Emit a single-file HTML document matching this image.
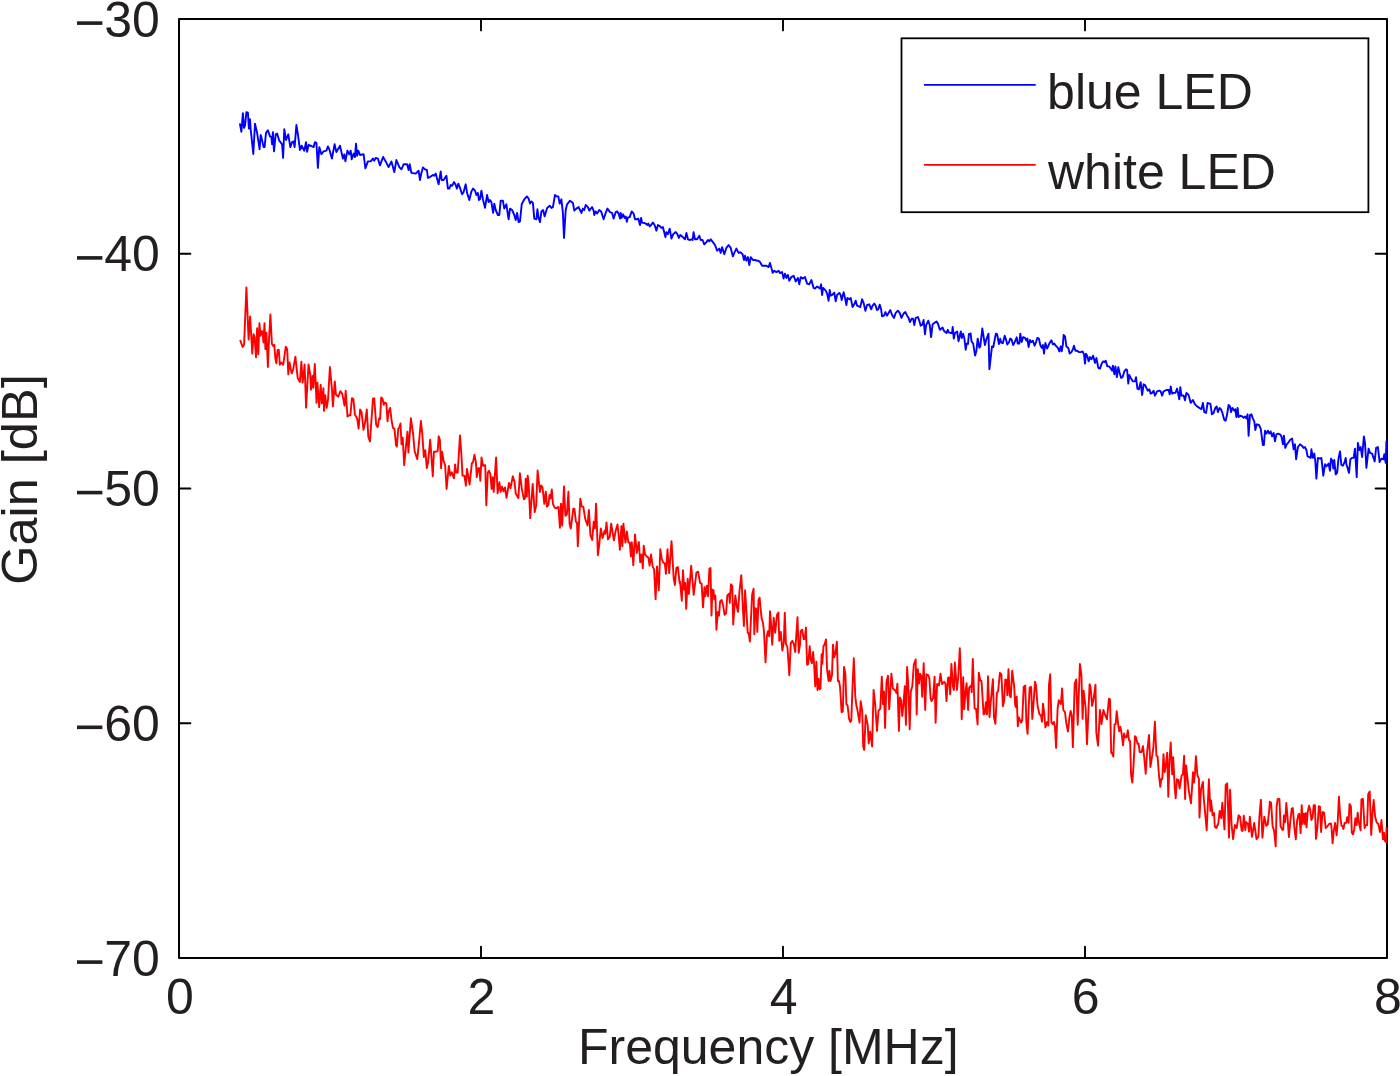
<!DOCTYPE html>
<html><head><meta charset="utf-8">
<style>
html,body{margin:0;padding:0;background:#fff;width:1400px;height:1076px;overflow:hidden}
svg{display:block}
text{font-family:"Liberation Sans",sans-serif;fill:#231f20}
</style></head><body>
<svg width="1400" height="1076" viewBox="0 0 1400 1076">
<rect x="0" y="0" width="1400" height="1076" fill="#fff"/>
<!-- ticks -->
<g stroke="#000" stroke-width="1.9" stroke-linecap="round" fill="none">
<path d="M179 253.75h11.4M179 488.50h11.4M179 723.25h11.4M1387 253.75h-11.4M1387 488.50h-11.4M1387 723.25h-11.4M481 958v-11.4M783 958v-11.4M1085 958v-11.4M481 19v11.4M783 19v11.4M1085 19v11.4"/>
</g>

<!-- axes box -->
<path d="M179 19H1387V958H179Z" fill="none" stroke="#000" stroke-width="2" stroke-linejoin="round"/>
<!--CURVES-->
<g fill="none" stroke-width="1.9" stroke-linejoin="round" stroke-linecap="round">
<path stroke="#0000ff" d="M240.0 124.3 241.4 131.7 242.9 113.1 244.0 127.9 245.0 125.7 246.4 112.1 247.9 112.6 248.9 128.6 250.0 119.3 250.7 129.3 253.3 154.0 255.0 123.6 257.1 132.9 259.6 149.3 260.7 135.0 261.4 137.1 263.6 147.1 264.6 147.1 266.0 132.9 267.9 130.3 270.0 136.4 271.4 137.1 272.1 144.3 272.9 132.1 274.0 151.4 275.7 134.3 277.1 133.6 279.3 140.7 282.1 144.3 283.1 157.9 284.3 129.3 286.1 140.0 288.3 134.3 290.3 147.1 292.1 142.1 293.6 141.4 294.6 147.1 296.4 125.0 297.9 134.3 300.0 150.0 301.7 145.7 304.3 150.7 306.0 142.1 307.1 151.7 308.6 145.0 311.4 146.0 313.6 147.1 315.0 142.1 316.4 142.9 317.9 167.9 319.3 147.1 321.4 154.3 323.6 151.4 326.4 150.7 327.9 146.4 329.3 149.3 331.9 158.6 334.6 144.3 336.4 152.1 340.0 145.7 342.9 158.6 344.3 154.3 345.4 161.4 347.4 150.7 349.3 154.3 350.7 150.7 351.7 159.3 353.6 153.6 355.0 157.1 356.0 143.6 357.1 155.7 358.3 150.7 360.0 155.0 363.6 154.3 365.4 168.3 367.9 161.4 370.7 161.4 372.9 158.6 374.3 160.7 375.7 157.9 377.9 158.6 380.0 165.4 383.1 156.9 385.7 161.4 388.6 167.1 391.4 161.4 394.3 172.1 396.4 160.0 399.3 167.1 401.4 169.3 403.6 164.3 407.1 164.3 408.6 170.0 409.7 164.3 411.4 172.9 415.7 173.6 418.6 170.7 420.0 180.0 421.1 174.3 422.9 167.4 425.0 169.3 426.9 170.0 427.9 177.9 430.0 177.1 432.9 175.0 434.3 175.7 435.7 173.6 438.6 184.3 440.7 171.4 441.7 180.0 443.6 180.0 446.4 175.7 447.9 188.6 449.3 188.6 450.7 185.0 452.1 185.7 454.0 182.1 455.7 185.0 456.9 188.6 458.3 183.6 460.0 187.9 462.1 194.3 463.6 192.1 465.7 184.3 467.1 192.9 469.3 200.0 471.4 191.4 473.1 188.6 475.0 190.7 476.4 195.0 477.9 192.9 478.9 200.0 480.0 199.3 481.4 190.7 483.1 200.0 485.0 207.9 487.1 195.0 488.6 202.1 490.0 200.0 491.4 202.1 493.1 212.9 494.3 203.6 495.7 210.0 497.9 215.0 499.3 215.0 500.7 200.7 502.9 200.7 504.3 208.6 506.4 204.3 508.6 219.3 510.0 208.6 512.1 210.0 514.3 215.0 515.7 220.0 517.1 212.9 518.6 222.1 520.0 221.4 521.7 204.3 524.3 199.3 526.9 196.4 528.6 198.6 530.0 203.6 531.4 201.4 532.9 202.9 534.3 218.6 536.4 219.3 537.4 209.3 538.6 217.9 540.0 222.1 541.4 211.4 543.1 210.0 544.6 216.4 547.1 207.9 549.7 205.7 551.4 207.9 552.9 207.1 555.0 195.0 556.4 196.4 558.3 196.4 559.7 203.6 561.4 199.3 562.9 212.9 564.0 237.9 565.7 210.0 567.1 204.3 570.0 200.7 572.9 202.9 574.3 210.7 576.4 208.6 578.6 207.1 580.0 210.0 581.4 212.9 582.9 208.6 584.3 210.0 585.7 205.0 587.9 207.1 589.3 210.7 590.7 208.6 592.1 207.1 593.6 210.7 594.3 215.0 595.7 211.4 597.1 213.6 599.3 210.0 601.1 211.4 603.6 219.3 605.7 212.9 607.4 208.6 610.0 212.1 612.1 212.9 613.6 218.6 615.7 212.1 617.1 211.4 618.6 213.6 620.0 218.6 620.7 212.9 621.7 217.9 623.1 214.3 624.6 217.9 625.7 216.4 626.9 221.7 627.9 217.4 629.7 217.1 631.7 211.4 633.6 213.6 635.0 219.3 636.9 219.3 638.3 218.6 640.0 225.0 641.1 217.9 642.1 222.9 644.0 222.9 645.7 223.6 647.4 225.0 648.3 223.6 649.7 226.4 651.1 225.0 652.9 222.6 654.6 225.0 656.4 230.7 657.9 225.0 659.7 226.0 661.4 227.9 662.9 227.1 665.4 237.1 666.4 232.1 667.9 234.3 669.7 228.6 671.4 238.6 673.1 234.3 675.7 232.1 677.1 233.6 678.9 237.9 680.3 235.0 682.9 237.1 685.0 239.3 686.4 232.9 687.9 239.3 690.0 240.0 691.4 239.3 692.6 240.0 693.6 232.1 695.0 239.3 697.1 239.3 699.3 235.7 700.7 240.0 702.6 240.0 704.3 244.3 706.4 242.1 707.9 240.0 709.3 241.4 710.7 239.3 712.9 242.1 715.0 245.0 717.1 250.7 719.3 248.6 720.7 252.9 722.1 247.1 724.3 254.3 726.4 247.9 728.6 245.0 730.7 247.9 732.9 256.4 734.3 252.9 736.4 248.6 738.6 252.9 740.3 252.1 742.6 254.3 744.0 260.0 745.0 255.7 746.4 260.7 747.9 257.1 749.3 265.0 750.7 257.1 752.9 260.0 755.0 260.0 756.9 260.7 758.3 260.7 760.0 262.1 762.1 265.7 764.3 265.7 766.4 265.7 768.6 267.1 770.0 262.9 771.4 267.9 772.6 272.9 774.3 270.7 776.4 272.1 778.6 270.7 780.0 273.1 782.1 272.1 783.6 278.6 785.0 273.6 786.4 277.9 787.9 275.0 789.3 280.7 791.4 277.1 793.6 275.7 795.7 281.4 797.9 277.9 799.3 284.3 800.7 277.1 802.9 278.6 805.0 277.1 807.1 283.6 809.3 284.3 811.4 280.0 813.6 287.9 815.0 288.6 817.1 286.4 820.0 288.6 821.1 284.3 822.1 295.0 823.1 287.9 825.7 290.7 827.1 293.6 828.6 300.7 829.7 290.0 830.7 295.7 832.1 295.0 834.3 292.6 835.7 301.4 837.1 295.0 839.3 292.9 840.7 295.0 841.7 300.0 843.6 292.1 845.0 297.9 846.4 305.0 847.4 297.9 849.3 299.3 850.7 297.9 852.6 307.1 854.3 304.3 855.7 300.7 857.1 305.7 858.9 306.4 860.3 307.1 862.1 299.3 863.6 302.9 865.4 310.7 867.1 305.0 869.3 304.3 871.1 309.3 872.6 305.7 874.3 303.6 875.7 305.7 876.9 310.0 878.3 309.3 879.7 304.6 881.1 309.3 882.1 316.4 884.0 315.7 885.4 312.1 886.9 315.7 888.6 312.9 890.3 310.0 892.1 315.0 894.0 317.9 895.7 312.9 897.9 310.7 899.7 312.9 901.4 317.9 903.6 313.6 905.4 312.1 907.1 315.7 908.6 317.9 910.0 322.1 911.7 318.6 913.1 318.6 914.3 325.0 915.7 317.9 917.9 317.1 919.3 320.7 920.7 325.7 922.1 325.0 923.6 320.0 925.0 334.3 926.0 325.7 928.3 320.7 929.7 325.0 931.1 337.1 932.6 324.3 934.3 322.9 936.4 321.4 937.9 323.6 939.7 329.3 940.0 329.8 942.6 327.6 943.9 330.8 946.5 333.1 947.8 329.8 948.8 332.4 952.0 333.4 952.7 326.9 953.8 338.6 955.0 333.1 957.2 331.5 958.5 341.2 960.8 331.5 961.8 338.0 963.1 333.7 964.4 338.6 965.7 349.7 966.7 343.8 968.0 343.8 968.9 334.1 970.6 333.4 971.5 341.2 973.2 343.8 975.1 355.5 976.4 351.0 977.7 338.6 979.3 347.7 980.3 346.4 982.3 328.5 984.9 345.1 986.2 339.9 988.5 333.7 989.4 369.2 992.0 346.4 993.3 347.1 995.0 338.0 995.9 333.7 997.2 334.4 998.9 344.1 1000.2 338.6 1001.1 342.5 1002.8 343.2 1004.7 335.7 1005.7 338.6 1007.3 344.5 1008.9 342.5 1010.2 338.6 1011.5 339.3 1013.2 345.1 1014.8 341.9 1016.7 337.3 1017.7 343.5 1019.3 343.6 1020.3 333.6 1021.7 342.1 1023.1 337.1 1025.0 337.9 1026.4 340.7 1027.4 338.6 1028.6 347.1 1030.0 340.0 1031.4 342.1 1032.9 340.7 1034.6 345.7 1036.0 342.1 1037.4 337.9 1038.9 338.6 1040.3 345.0 1041.7 347.9 1042.9 345.0 1044.0 353.6 1045.4 342.9 1047.1 348.6 1049.3 343.6 1051.4 340.3 1052.9 344.3 1054.3 343.6 1055.7 345.7 1057.9 347.9 1059.3 351.4 1060.7 346.4 1061.7 351.4 1062.9 344.3 1063.6 335.0 1065.0 336.4 1066.4 346.4 1068.3 347.9 1069.7 353.6 1071.4 352.1 1072.9 349.3 1074.0 345.7 1075.4 350.7 1077.1 350.7 1078.9 352.1 1080.7 352.1 1082.6 351.4 1084.0 354.3 1085.0 363.6 1086.0 353.6 1087.4 356.4 1088.6 361.4 1090.0 357.1 1091.4 359.3 1093.1 355.7 1095.0 362.9 1096.4 357.9 1098.3 367.9 1100.0 368.6 1101.7 363.6 1103.1 361.4 1104.6 362.1 1105.7 360.7 1107.4 366.4 1109.3 366.4 1110.7 368.6 1112.1 370.7 1112.9 365.7 1114.3 374.3 1115.4 366.4 1116.9 377.1 1118.3 367.1 1119.7 372.9 1121.1 377.9 1122.6 377.1 1124.3 371.4 1126.0 369.3 1127.1 370.0 1128.3 383.6 1129.3 375.0 1131.1 378.6 1132.9 381.4 1135.0 381.4 1136.0 377.1 1137.4 388.6 1138.9 389.3 1140.7 382.1 1142.1 395.0 1143.6 384.3 1145.0 385.0 1146.4 387.9 1147.9 390.7 1149.3 389.3 1150.7 393.6 1152.1 392.9 1153.6 390.7 1155.0 395.7 1157.1 391.4 1159.3 390.7 1160.7 391.4 1162.1 395.7 1163.6 391.4 1166.4 390.0 1168.6 390.0 1169.7 394.3 1170.7 386.4 1172.1 393.6 1173.6 392.9 1175.4 392.9 1177.1 388.6 1179.3 399.3 1180.3 387.1 1181.4 395.7 1183.6 395.4 1185.0 400.3 1186.4 392.9 1188.6 395.0 1190.7 402.9 1192.9 400.0 1195.0 404.3 1197.1 406.4 1201.4 409.3 1202.9 402.9 1204.3 412.1 1206.1 412.9 1207.6 402.9 1209.3 403.6 1210.4 403.6 1211.9 414.3 1213.6 412.9 1215.3 407.9 1216.7 406.4 1217.9 412.1 1219.6 407.9 1221.0 409.3 1222.4 412.9 1224.3 420.0 1225.7 420.7 1227.1 414.3 1228.6 405.0 1230.0 406.4 1231.0 412.1 1232.4 407.9 1234.3 410.7 1235.3 409.3 1236.4 417.1 1237.6 407.9 1238.6 417.1 1240.4 415.7 1242.1 416.4 1243.6 417.9 1245.0 416.4 1246.4 418.6 1247.6 414.3 1248.6 435.7 1250.0 415.0 1251.4 414.3 1252.9 418.6 1254.3 421.4 1255.3 430.0 1256.7 424.3 1259.0 425.0 1260.7 428.6 1262.9 445.0 1263.9 445.0 1265.0 430.7 1266.4 433.6 1267.9 430.7 1269.3 433.6 1270.7 431.4 1272.1 436.4 1273.6 432.9 1275.0 441.4 1276.4 434.3 1278.1 433.6 1280.0 434.3 1281.4 436.4 1282.9 444.3 1283.9 435.7 1285.3 447.9 1286.7 444.3 1288.1 442.9 1290.0 440.0 1292.1 438.6 1293.6 449.3 1295.0 444.3 1296.1 459.3 1297.9 447.1 1300.0 444.3 1301.9 445.7 1303.6 447.9 1305.0 447.1 1306.4 450.0 1307.6 456.4 1309.3 457.1 1310.7 457.9 1311.4 449.3 1312.9 457.9 1314.3 453.6 1315.3 461.4 1316.4 478.6 1317.9 457.9 1320.0 458.6 1321.4 457.9 1323.3 475.7 1325.0 464.3 1326.4 466.4 1328.6 463.6 1330.0 470.7 1331.0 458.6 1332.4 460.7 1333.3 468.6 1334.3 460.0 1335.7 474.3 1337.1 472.9 1338.6 457.9 1340.0 451.4 1341.4 465.0 1342.9 465.7 1344.3 462.9 1345.7 457.9 1346.4 464.3 1347.6 467.9 1349.0 472.9 1350.4 459.3 1351.9 457.9 1353.6 457.9 1355.0 448.6 1356.7 477.1 1357.9 442.9 1359.3 450.0 1360.7 447.1 1362.1 457.1 1363.9 436.4 1365.0 442.9 1366.4 467.9 1368.6 448.6 1370.0 452.9 1372.1 453.6 1374.7 461.4 1376.1 447.9 1377.9 447.1 1379.6 462.1 1381.4 458.6 1383.3 459.3 1384.3 454.3 1385.7 462.9 1386.4 441.4"/>
<path stroke="#ff0000" d="M240.4 340.7 242.6 346.9 244.1 344.7 246.4 287.4 248.6 339.5 250.1 316.4 252.3 353.6 253.5 334.3 254.5 336.5 256.0 357.3 257.1 328.3 258.3 354.3 259.4 323.1 260.5 335.8 261.5 331.3 262.4 331.3 263.5 342.5 264.5 323.1 265.4 349.1 266.4 332.8 267.9 367.0 269.0 339.5 270.4 314.5 271.9 343.9 273.4 346.2 274.3 344.7 275.4 358.8 276.4 363.3 277.6 349.9 278.8 349.9 279.8 364.8 281.3 362.5 283.2 364.8 285.8 346.6 287.2 349.1 288.3 374.4 289.5 362.5 291.7 373.4 293.2 369.2 295.4 356.6 297.7 378.1 299.9 381.9 301.4 361.8 302.6 382.6 303.6 375.2 304.6 364.5 306.1 407.6 308.5 364.5 310.3 375.2 311.0 389.7 312.5 375.9 313.3 387.8 314.8 364.0 316.5 402.7 317.4 382.6 319.2 407.1 320.7 384.8 321.9 403.4 323.4 388.3 324.0 410.9 325.2 395.2 326.7 407.9 328.1 399.0 329.9 367.0 331.9 388.6 332.9 406.4 334.8 381.4 335.9 394.5 338.3 396.7 340.3 391.2 342.3 393.8 344.5 405.7 345.7 390.8 347.5 416.5 349.0 415.3 350.4 415.3 351.9 398.2 353.4 399.0 354.9 414.6 357.1 418.3 358.6 428.7 360.1 409.4 361.6 412.3 363.5 429.9 365.3 421.3 366.8 409.4 368.3 436.9 370.0 441.4 371.5 419.1 373.0 398.6 374.2 398.3 376.2 425.0 377.7 427.2 379.2 418.3 380.1 419.1 381.2 397.5 382.6 399.0 383.7 404.9 384.9 402.4 386.4 403.5 387.5 421.3 388.6 411.6 390.1 407.9 391.6 420.6 393.0 428.0 394.5 428.7 396.0 445.1 396.8 446.6 398.3 428.7 399.4 427.2 400.5 423.5 401.5 444.3 402.7 437.7 404.2 465.2 405.7 448.8 407.5 431.7 408.4 452.5 410.9 418.3 413.1 433.9 414.6 451.0 417.3 459.2 419.1 441.4 420.9 420.9 422.3 433.9 423.8 457.0 425.3 450.3 426.8 468.1 428.0 462.9 430.2 439.6 432.8 476.3 433.9 451.8 435.4 451.8 437.7 451.0 438.7 436.2 439.9 439.9 441.1 468.1 442.1 451.8 443.6 460.7 445.1 465.2 446.6 489.0 448.8 465.9 450.3 475.6 451.8 472.3 454.0 478.3 455.1 464.4 456.2 472.6 457.7 472.6 460.0 435.4 461.4 454.8 462.5 475.6 464.4 475.6 465.9 485.7 467.0 468.9 469.6 484.5 471.9 462.9 472.9 462.9 474.4 454.8 475.9 462.2 476.8 477.1 478.3 468.1 479.3 468.1 480.3 480.8 481.5 457.4 483.0 465.9 485.2 465.2 486.3 505.3 487.8 472.6 489.0 470.8 490.4 474.1 491.6 489.0 492.7 477.1 493.7 491.9 496.1 457.4 497.6 493.4 499.4 482.3 500.6 491.9 502.0 486.7 503.5 491.2 505.0 487.5 506.5 497.9 509.0 483.0 510.5 488.2 512.8 476.3 514.5 481.5 515.7 493.4 518.4 497.9 519.9 473.3 521.7 488.2 523.9 499.4 525.0 498.0 525.7 478.7 526.8 496.5 527.7 475.7 528.7 484.6 530.2 518.1 532.7 483.9 534.7 512.1 536.2 505.4 537.6 470.5 539.9 492.0 541.1 485.4 542.5 487.3 544.3 503.9 545.8 491.7 547.0 506.6 548.5 504.7 549.5 495.0 550.6 498.3 551.8 489.4 553.0 504.2 554.7 507.7 556.2 508.4 558.5 506.9 559.9 527.7 561.0 503.6 562.2 525.5 564.0 486.4 565.4 515.8 566.9 514.3 568.4 491.7 569.6 524.0 570.8 528.5 573.3 508.7 574.4 508.7 575.9 521.8 577.0 522.5 577.8 546.3 580.3 498.7 581.8 506.6 583.3 506.6 585.2 518.8 587.5 525.5 588.9 509.9 590.4 535.2 592.2 539.9 593.7 521.8 594.9 528.5 596.1 503.6 597.9 555.2 599.3 544.1 600.8 528.5 602.6 538.1 604.6 530.7 605.3 533.7 606.5 522.5 608.0 539.3 609.8 536.7 611.2 523.6 613.9 540.4 615.7 530.7 617.5 524.5 618.4 532.9 619.9 549.7 621.4 526.2 622.4 546.3 623.4 523.6 625.4 542.6 626.9 531.4 628.3 542.6 629.8 542.6 630.9 556.3 631.8 542.3 633.3 565.2 635.0 534.4 636.8 553.0 638.8 541.9 640.2 562.2 641.7 554.5 642.8 568.2 643.7 545.6 645.1 554.5 646.9 556.7 648.4 557.5 649.6 565.7 651.1 554.5 652.6 566.4 654.1 569.4 655.6 599.1 657.0 566.4 658.8 590.2 660.3 549.3 661.8 559.0 663.3 562.7 664.8 563.4 666.0 573.8 667.5 549.3 669.2 573.1 671.5 541.1 673.7 578.3 674.9 585.0 676.4 567.9 677.9 567.1 679.6 582.8 680.0 581.4 681.8 600.7 683.0 570.2 684.2 589.6 685.2 582.9 686.2 608.9 687.7 578.7 688.9 594.0 691.2 565.8 693.7 594.8 696.4 572.5 698.1 571.7 700.1 582.9 701.6 583.6 703.0 607.4 704.5 587.3 705.3 596.2 706.8 585.8 708.0 596.2 709.4 568.7 710.5 568.0 711.5 615.6 712.4 589.6 713.5 590.3 714.2 599.2 715.4 595.5 716.4 629.7 717.9 611.9 719.0 615.6 720.1 601.4 721.6 600.0 723.1 605.2 724.6 614.8 726.1 613.3 727.3 595.5 729.1 593.6 729.8 602.9 730.9 584.3 732.3 585.8 733.2 624.5 735.3 595.5 736.8 606.7 738.0 611.9 739.5 591.0 741.3 575.1 742.8 606.7 743.9 626.0 745.1 590.3 746.6 614.1 747.7 632.7 748.7 633.4 749.9 641.6 752.1 594.8 753.6 588.8 754.3 634.2 755.5 608.1 756.6 609.6 757.3 631.9 758.5 600.0 759.6 597.7 761.5 617.8 763.0 623.0 764.0 631.9 765.5 662.4 767.0 634.9 768.0 631.2 769.2 636.4 770.0 611.1 771.0 622.3 772.2 644.6 773.7 617.8 775.2 632.7 777.0 614.8 778.4 612.6 779.3 640.9 780.8 631.9 782.3 650.5 783.8 642.3 784.8 612.6 785.9 643.8 787.4 646.8 789.3 675.2 790.8 643.1 792.3 640.9 793.8 643.8 795.2 652.0 797.5 617.1 798.7 652.8 800.0 644.6 800.7 631.2 802.2 629.7 803.7 639.4 804.8 638.7 805.9 627.5 807.1 664.7 808.2 663.9 809.7 646.1 810.7 659.5 811.9 663.2 813.1 652.0 814.1 663.9 815.2 686.2 816.4 661.7 817.5 690.0 818.6 678.8 819.6 689.2 820.5 688.5 821.6 654.3 822.3 663.9 823.5 646.1 824.5 644.6 826.0 639.4 827.1 669.9 828.6 681.0 829.4 670.6 830.5 681.0 832.0 675.1 833.0 644.6 834.2 657.2 835.4 653.5 836.9 641.6 837.9 681.0 839.0 681.0 840.1 687.7 841.6 712.3 842.8 711.5 844.0 666.9 845.4 674.3 846.4 704.1 847.6 705.6 849.1 719.0 850.3 721.9 851.3 720.4 852.3 692.2 853.8 658.3 855.3 696.7 856.5 706.3 857.2 708.6 859.5 722.7 860.7 701.1 862.2 710.8 863.2 746.5 864.2 749.9 865.7 715.2 867.7 724.9 868.7 743.5 870.2 731.6 872.1 746.5 873.6 690.0 875.1 703.3 877.0 730.9 878.5 710.8 880.3 708.6 881.8 676.6 883.0 704.1 884.0 691.4 885.1 727.9 886.5 681.8 888.0 675.8 889.2 709.3 891.4 673.6 892.9 688.5 895.2 690.4 896.4 692.9 897.4 683.6 898.9 730.9 899.9 697.4 901.1 700.4 902.3 716.0 903.3 705.6 904.8 686.2 905.9 724.9 907.1 666.9 908.3 685.5 909.7 729.4 910.8 691.4 912.3 686.2 913.8 664.7 915.7 659.5 916.7 714.5 917.8 669.1 919.0 683.3 920.1 673.6 921.2 675.8 922.2 696.7 923.7 663.2 925.2 710.0 926.4 674.3 928.2 675.1 929.4 678.8 930.6 698.1 931.6 701.1 933.1 698.1 934.6 676.6 935.6 722.7 937.1 684.0 939.0 685.5 940.5 673.6 942.0 684.0 944.2 681.8 945.4 683.3 946.5 701.1 948.0 678.1 949.0 677.3 950.2 694.4 951.4 663.9 952.9 686.2 953.9 690.0 954.9 662.5 956.9 690.0 958.3 676.5 959.8 648.3 960.9 675.0 961.7 719.3 963.2 677.2 964.2 709.2 965.4 692.9 966.6 683.2 968.1 710.0 969.1 687.7 971.1 685.4 971.7 692.1 972.8 659.0 974.6 708.5 976.1 708.9 977.6 724.4 978.8 672.8 980.3 680.7 981.5 681.0 983.6 714.4 984.7 713.7 985.9 702.1 987.0 714.4 988.0 676.2 989.5 717.0 991.0 698.8 992.9 679.2 994.0 717.4 995.4 723.8 996.9 692.6 998.1 691.4 999.9 672.8 1001.4 674.3 1002.9 706.2 1004.1 701.0 1005.3 679.5 1006.7 680.2 1007.3 695.1 1008.5 669.1 1009.7 695.8 1010.8 697.3 1012.2 670.6 1014.2 686.9 1015.2 705.5 1016.0 707.0 1016.7 696.6 1017.8 726.3 1018.9 717.4 1021.2 722.6 1022.2 720.4 1023.7 686.9 1025.2 685.4 1026.4 722.6 1027.6 733.8 1029.6 687.7 1031.1 686.9 1032.3 718.9 1033.8 699.6 1035.0 681.7 1036.0 685.4 1037.5 705.5 1039.5 714.4 1040.9 715.2 1042.0 721.9 1043.0 703.6 1044.2 712.9 1045.4 727.4 1047.2 721.9 1048.4 725.6 1049.0 684.7 1050.2 674.3 1051.4 722.6 1052.8 724.1 1053.9 721.9 1054.9 726.3 1056.1 747.9 1057.6 708.5 1058.8 700.3 1060.9 704.0 1062.1 688.4 1063.3 710.0 1065.0 712.2 1066.2 722.6 1068.0 731.5 1069.5 716.4 1070.7 711.0 1071.7 715.2 1072.9 747.1 1074.7 683.6 1076.2 679.5 1077.7 724.8 1079.9 663.9 1081.4 674.3 1082.6 718.9 1083.6 690.6 1085.6 707.7 1087.0 744.2 1089.6 684.2 1090.6 687.7 1092.1 705.9 1093.6 698.8 1095.5 684.7 1096.3 732.3 1098.0 745.7 1100.0 710.0 1101.5 724.1 1103.4 710.0 1105.2 715.2 1107.0 719.3 1108.9 698.8 1110.0 699.3 1111.2 752.9 1112.2 752.9 1113.3 756.6 1114.5 724.6 1115.7 723.9 1116.7 711.2 1118.2 724.6 1119.2 731.3 1120.4 726.8 1121.6 733.5 1123.1 745.4 1124.1 733.5 1125.2 737.2 1126.7 737.2 1127.8 730.3 1129.0 740.2 1130.1 741.0 1131.1 775.2 1132.3 782.6 1133.5 766.2 1135.0 736.2 1136.0 737.2 1137.5 743.9 1138.6 743.6 1139.7 752.1 1141.5 752.1 1143.0 746.2 1144.2 757.3 1145.7 773.7 1147.2 751.4 1149.0 735.0 1150.4 767.0 1152.4 754.3 1153.4 746.9 1154.9 721.6 1156.4 755.8 1157.6 756.6 1159.1 776.7 1160.3 786.8 1161.3 778.9 1162.3 778.9 1163.5 754.1 1164.7 772.2 1165.8 766.2 1167.2 752.6 1168.3 796.7 1169.5 761.0 1170.7 742.5 1172.2 774.4 1173.2 757.3 1174.7 787.1 1175.7 798.2 1176.9 779.3 1178.4 779.9 1179.6 788.6 1181.7 775.2 1182.9 774.4 1184.1 755.8 1185.1 799.0 1186.1 765.5 1187.3 776.7 1188.8 790.8 1191.0 803.4 1193.0 772.2 1194.0 782.6 1195.1 771.4 1195.9 756.1 1197.4 775.2 1198.9 778.9 1199.5 817.5 1201.0 789.3 1202.9 781.9 1203.7 797.5 1205.2 813.8 1206.7 830.2 1208.9 779.3 1210.4 810.9 1211.1 800.4 1212.6 815.3 1214.1 813.1 1214.8 826.5 1216.3 828.0 1218.3 823.5 1219.7 810.9 1221.2 818.3 1222.3 802.7 1224.5 829.4 1225.7 784.8 1227.2 783.3 1229.0 837.6 1230.1 789.7 1231.6 825.0 1233.1 839.1 1234.9 825.0 1236.7 828.0 1238.6 815.3 1240.1 816.8 1241.6 830.2 1242.6 830.9 1243.8 815.6 1245.3 830.2 1246.1 822.0 1248.0 824.2 1249.0 831.7 1249.8 816.8 1252.0 836.9 1254.2 823.0 1256.5 839.1 1258.4 836.9 1259.4 816.8 1260.9 799.7 1262.4 837.6 1264.3 816.8 1266.3 825.7 1267.7 824.6 1269.1 811.4 1269.9 801.7 1271.1 802.9 1272.6 826.3 1274.1 830.9 1275.7 846.3 1276.6 806.9 1277.7 798.9 1279.4 798.9 1280.6 826.3 1282.3 829.7 1283.2 829.7 1284.0 815.4 1285.1 822.3 1286.3 802.9 1287.4 815.4 1288.9 837.1 1290.3 821.7 1291.7 808.6 1292.8 808.0 1294.3 826.9 1295.8 839.4 1297.1 820.6 1298.3 814.9 1299.2 813.7 1300.6 833.1 1301.7 805.1 1302.6 824.0 1303.8 813.7 1304.9 824.0 1305.7 813.1 1306.5 827.4 1307.7 812.0 1309.1 805.7 1310.3 810.3 1311.4 820.0 1312.6 817.1 1313.7 805.1 1314.9 805.1 1316.0 838.9 1317.5 826.3 1318.9 806.3 1320.0 806.9 1321.1 832.0 1322.5 812.0 1324.0 812.6 1325.7 828.0 1327.4 826.3 1329.1 824.0 1330.9 823.4 1331.4 826.3 1332.6 843.4 1333.7 831.4 1335.1 822.9 1336.6 835.4 1337.7 822.3 1338.9 796.6 1340.3 817.1 1341.5 825.7 1342.6 826.3 1343.4 829.1 1344.6 822.9 1346.3 822.9 1347.2 817.1 1348.6 822.9 1349.5 804.0 1350.9 806.3 1351.8 832.6 1353.1 834.3 1354.3 828.6 1355.4 818.3 1356.6 825.1 1357.7 812.6 1358.9 822.9 1360.6 830.3 1361.4 799.4 1362.9 798.9 1364.6 828.0 1365.7 825.1 1367.1 825.1 1368.2 794.3 1369.7 791.4 1371.2 834.9 1372.6 811.4 1373.7 800.0 1375.1 816.6 1376.6 822.3 1378.3 824.0 1380.0 832.0 1381.5 820.0 1382.9 839.4 1384.0 832.6 1384.9 840.6 1386.1 842.3 1386.5 828.0"/>
</g>
<!--/CURVES-->
<!-- legend -->
<rect x="901.5" y="38.3" width="466.9" height="173.9" fill="#fff" stroke="#000" stroke-width="1.8"/>
<path d="M924 84.8H1035.7" stroke="#0000ff" stroke-width="1.7"/>
<path d="M924 164.9H1035.7" stroke="#ff0000" stroke-width="1.7"/>
<text x="1047.1" y="108.6" font-size="50">blue LED</text>
<text x="1048" y="189.2" font-size="50">white LED</text>
<!-- y tick labels -->
<g font-size="50" text-anchor="end">
<text transform="translate(159.9 36.6)">30</text>
<text transform="translate(159.9 271.3)">40</text>
<text transform="translate(159.9 506.1)">50</text>
<text transform="translate(159.9 740.8)">60</text>
<text transform="translate(159.9 975.6)">70</text>
</g>
<g fill="#231f20">
<rect x="77" y="21.3" width="25.4" height="3.6"/>
<rect x="77" y="256.1" width="25.4" height="3.6"/>
<rect x="77" y="490.8" width="25.4" height="3.6"/>
<rect x="77" y="725.5" width="25.4" height="3.6"/>
<rect x="77" y="960.3" width="25.4" height="3.6"/>
</g>
<g font-size="50" text-anchor="middle">
<text transform="translate(179.9 1014.3)">0</text>
<text transform="translate(481.4 1014.3)">2</text>
<text transform="translate(783.6 1014.3)">4</text>
<text transform="translate(1085.7 1014.3)">6</text>
<text transform="translate(1387.8 1014.3)">8</text>
</g>
<text x="768.3" y="1063.7" font-size="50" text-anchor="middle">Frequency [MHz]</text>
<text transform="translate(36.8 479.6) rotate(-90)" font-size="50.5" text-anchor="middle">Gain [dB]</text>
</svg>
</body></html>
